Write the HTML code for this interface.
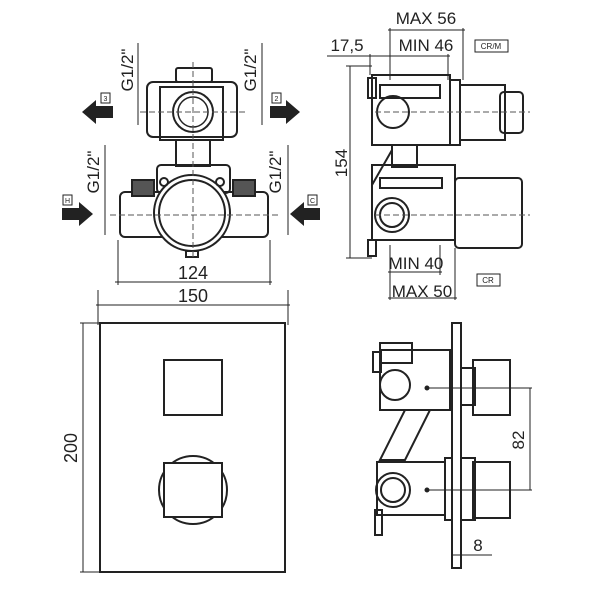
<!DOCTYPE html>
<html><head><style>html,body{margin:0;padding:0;background:#fff}svg{display:block}</style></head><body>
<svg width="600" height="600" viewBox="0 0 600 600" xmlns="http://www.w3.org/2000/svg" font-family="'Liberation Sans', 'DejaVu Sans', sans-serif" fill="none" stroke="#222">
<rect width="600" height="600" fill="#fff" stroke="none"/>
<!-- TOP LEFT VIEW -->
<g stroke-width="2">
  <rect x="176" y="68" width="36" height="14" rx="2"/>
  <rect x="147" y="82" width="90" height="55" rx="6"/>
  <rect x="160" y="87" width="63" height="53"/>
  <circle cx="193" cy="112" r="20"/>
  <circle cx="193" cy="112" r="15" stroke-width="1.5"/>
  <rect x="176" y="140" width="34" height="26"/>
  <rect x="157" y="165" width="73" height="28" rx="4"/>
  <rect x="120" y="192" width="148" height="45" rx="5"/>
  <circle cx="192" cy="213" r="38" fill="#fff"/>
  <circle cx="192" cy="213" r="33"/>
  <circle cx="164" cy="182" r="4"/><circle cx="220" cy="182" r="4"/>
  <rect x="132" y="180" width="22" height="16" fill="#555"/>
  <rect x="233" y="180" width="22" height="16" fill="#555"/>
  <rect x="186" y="251" width="12" height="6"/>
</g>
<g stroke-width="1" stroke-dasharray="6 3" stroke="#555">
  <line x1="193" y1="62" x2="193" y2="260"/>
  <line x1="140" y1="112" x2="245" y2="112"/>
  <line x1="110" y1="215" x2="280" y2="215"/>
</g>
<g stroke-width="1">
  <line x1="138" y1="43" x2="138" y2="125"/><line x1="262" y1="43" x2="262" y2="125"/>
  <line x1="105" y1="145" x2="105" y2="235"/><line x1="288" y1="145" x2="288" y2="235"/>
  <line x1="118" y1="240" x2="118" y2="285"/><line x1="270" y1="240" x2="270" y2="285"/>
  <line x1="115" y1="282" x2="272" y2="282"/>
  <line x1="98" y1="290" x2="98" y2="325"/><line x1="288" y1="290" x2="288" y2="325"/>
  <line x1="96" y1="305" x2="290" y2="305"/>
</g>
<g fill="#222" stroke="none" font-size="17">
  <text transform="translate(133,70) rotate(-90)" text-anchor="middle">G1/2"</text>
  <text transform="translate(256,70) rotate(-90)" text-anchor="middle">G1/2"</text>
  <text transform="translate(99,172) rotate(-90)" text-anchor="middle">G1/2"</text>
  <text transform="translate(281,172) rotate(-90)" text-anchor="middle">G1/2"</text>
  <text x="193" y="279" text-anchor="middle" font-size="18">124</text>
  <text x="193" y="302" text-anchor="middle" font-size="18">150</text>
  <!-- arrows -->
  <polygon points="82,112 96,100 96,106 113,106 113,118 96,118 96,124"/>
  <polygon points="300,112 286,100 286,106 270,106 270,118 286,118 286,124"/>
  <polygon points="93,214 79,202 79,208 62,208 62,220 79,220 79,226"/>
  <polygon points="290,214 304,202 304,208 320,208 320,220 304,220 304,226"/>
</g>
<g stroke-width="1" font-size="7">
  <rect x="101" y="93" width="9" height="10"/><text x="105.5" y="101" fill="#222" stroke="none" text-anchor="middle">3</text>
  <rect x="272" y="93" width="9" height="10"/><text x="276.5" y="101" fill="#222" stroke="none" text-anchor="middle">2</text>
  <rect x="63" y="195" width="9" height="10"/><text x="67.5" y="203" fill="#222" stroke="none" text-anchor="middle">H</text>
  <rect x="308" y="195" width="9" height="10"/><text x="312.5" y="203" fill="#222" stroke="none" text-anchor="middle">C</text>
</g>
<!-- TOP RIGHT VIEW -->
<g stroke-width="2">
  <rect x="372" y="75" width="78" height="70"/>
  <rect x="380" y="85" width="60" height="13"/>
  <rect x="368" y="78" width="8" height="20"/>
  <circle cx="393" cy="112" r="16"/>
  <rect x="450" y="80" width="10" height="65"/>
  <rect x="460" y="85" width="45" height="55"/>
  <rect x="500" y="92" width="23" height="41" rx="4"/>
  <rect x="392" y="145" width="25" height="22"/>
  <rect x="372" y="165" width="83" height="75"/>
  <rect x="380" y="178" width="62" height="10"/>
  <line x1="372" y1="185" x2="392" y2="150"/>
  <circle cx="392" cy="215" r="17"/><circle cx="392" cy="215" r="12"/>
  <rect x="455" y="178" width="67" height="70" rx="4"/>
  <rect x="368" y="240" width="8" height="16"/>
</g>
<g stroke-width="1" stroke-dasharray="6 3" stroke="#555">
  <line x1="375" y1="112" x2="530" y2="112"/><line x1="375" y1="215" x2="530" y2="215"/>
</g>
<g stroke-width="1">
  <line x1="388" y1="30" x2="465" y2="30"/><line x1="463" y1="28" x2="463" y2="80"/><line x1="390" y1="28" x2="390" y2="80"/>
  <line x1="327" y1="56" x2="450" y2="56"/><line x1="370" y1="54" x2="370" y2="75"/><line x1="448" y1="54" x2="448" y2="80"/>
  <line x1="350" y1="66" x2="350" y2="258"/><line x1="346" y1="66" x2="372" y2="66"/><line x1="346" y1="258" x2="372" y2="258"/>
  <line x1="390" y1="245" x2="390" y2="300"/><line x1="440" y1="245" x2="440" y2="275"/><line x1="455" y1="248" x2="455" y2="300"/>
  <line x1="388" y1="272" x2="442" y2="272"/><line x1="388" y1="298" x2="457" y2="298"/>
  <rect x="475" y="40" width="33" height="12"/><rect x="477" y="274" width="23" height="12"/>
</g>
<g fill="#222" stroke="none" font-size="17">
  <text x="426" y="24" text-anchor="middle">MAX 56</text>
  <text x="426" y="51" text-anchor="middle">MIN 46</text>
  <text x="347" y="51" text-anchor="middle">17,5</text>
  <text transform="translate(347,163) rotate(-90)" text-anchor="middle">154</text>
  <text x="416" y="269" text-anchor="middle">MIN 40</text>
  <text x="422" y="297" text-anchor="middle">MAX 50</text>
  <text x="491" y="49" text-anchor="middle" font-size="8">CR/M</text>
  <text x="488" y="283" text-anchor="middle" font-size="8">CR</text>
</g>
<!-- BOTTOM LEFT -->
<g stroke-width="2">
  <rect x="100" y="323" width="185" height="249"/>
  <rect x="164" y="360" width="58" height="55"/>
  <circle cx="193" cy="490" r="34"/>
  <rect x="164" y="463" width="58" height="54" fill="#fff"/>
</g>
<g stroke-width="1">
  <line x1="80" y1="323" x2="100" y2="323"/><line x1="80" y1="572" x2="100" y2="572"/><line x1="83" y1="323" x2="83" y2="572"/>
</g>
<text transform="translate(77,448) rotate(-90)" text-anchor="middle" font-size="18" fill="#222" stroke="none">200</text>
<!-- BOTTOM RIGHT -->
<g stroke-width="2">
  <rect x="452" y="323" width="9" height="245"/>
  <rect x="380" y="350" width="70" height="60"/>
  <rect x="380" y="343" width="32" height="20"/>
  <rect x="373" y="352" width="8" height="20"/>
  <circle cx="395" cy="385" r="15"/>
  <rect x="461" y="368" width="14" height="37"/>
  <rect x="473" y="360" width="37" height="55"/>
  <polygon points="380,460 405,410 430,410 405,460"/>
  <rect x="377" y="462" width="68" height="53"/>
  <circle cx="393" cy="490" r="17"/><circle cx="393" cy="490" r="12"/>
  <rect x="445" y="458" width="7" height="62"/>
  <rect x="461" y="458" width="14" height="62"/>
  <rect x="473" y="462" width="37" height="56"/>
  <rect x="375" y="510" width="7" height="25"/>
</g>
<g stroke-width="1">
  <line x1="425" y1="388" x2="532" y2="388"/><line x1="425" y1="490" x2="532" y2="490"/>
  <line x1="530" y1="388" x2="530" y2="490"/>
  <line x1="452" y1="555" x2="492" y2="555"/>
</g>
<circle cx="427" cy="388" r="2" fill="#222"/><circle cx="427" cy="490" r="2" fill="#222"/>
<g fill="#222" stroke="none" font-size="17">
  <text transform="translate(524,440) rotate(-90)" text-anchor="middle">82</text>
  <text x="478" y="551" text-anchor="middle">8</text>
</g>
</svg>
</body></html>
